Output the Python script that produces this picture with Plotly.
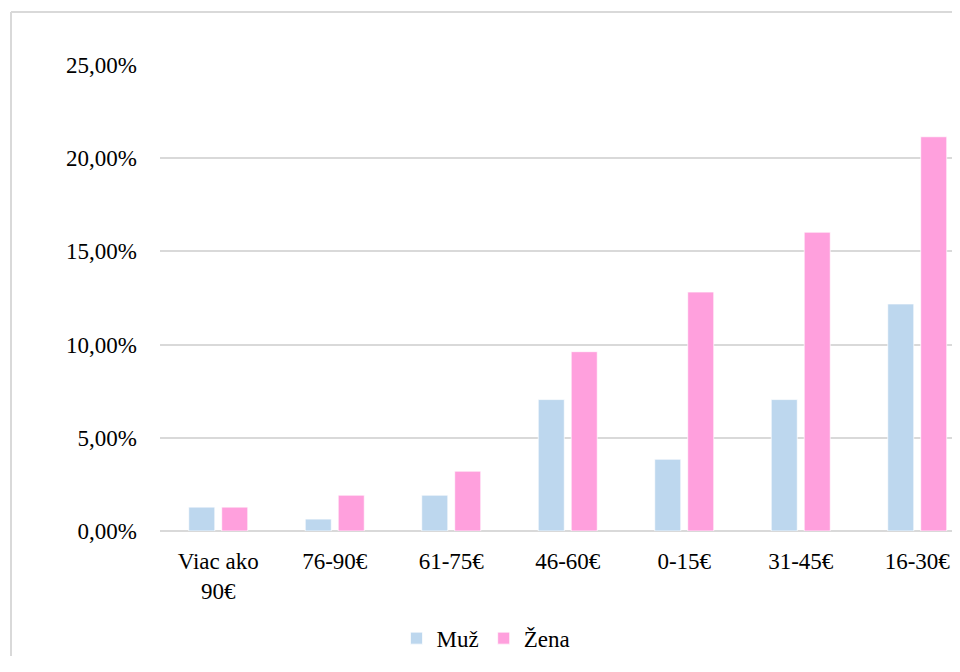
import plotly.graph_objects as go

CATEGORIES = ["Viac ako<br>90€", "76-90€", "61-75€", "46-60€", "0-15€", "31-45€", "16-30€"]
MUZ = [0.0128, 0.0064, 0.0192, 0.0705, 0.0385, 0.0705, 0.1218]
ZENA = [0.0128, 0.0192, 0.0321, 0.0962, 0.1282, 0.1603, 0.2115]

FONT = dict(family="Liberation Serif", color="#000000", size=23)
GRID = "#D9D9D9"

fig = go.Figure()
fig.add_trace(go.Bar(
    x=CATEGORIES, y=MUZ, name="Muž",
    marker=dict(color="#BDD7EE", line=dict(color="rgba(255,255,255,0.7)", width=1)),
))
fig.add_trace(go.Bar(
    x=CATEGORIES, y=ZENA, name="Žena",
    marker=dict(color="#FFA0DD", line=dict(color="rgba(255,255,255,0.7)", width=1)),
))

# chart area border (Excel style), only top and left edges are visible
fig.add_shape(type="line", xref="paper", yref="paper",
              x0=-0.18625, x1=1.2, y0=1.1137, y1=1.1137,
              line=dict(color=GRID, width=2), layer="below")
fig.add_shape(type="line", xref="paper", yref="paper",
              x0=-0.18625, x1=-0.18625, y0=-0.6, y1=1.1137,
              line=dict(color=GRID, width=2), layer="below")

# page body has an 8px margin, so the figure is kept small enough not to scroll
fig.update_layout(
    width=952, height=648,
    margin=dict(l=152, r=0, t=57, b=125, autoexpand=False),
    paper_bgcolor="white", plot_bgcolor="white",
    font=FONT,
    separators=", ",
    barmode="group", bargap=0.434, bargroupgap=0.21,
    showlegend=True,
    legend=dict(
        orientation="h", x=0.4075, xanchor="center", y=-0.23, yanchor="middle",
        font=dict(size=23), itemwidth=30, tracegroupgap=0,
    ),
    xaxis=dict(
        range=[-0.5, 6.367], showgrid=False, showline=False, zeroline=False,
        ticks="", ticklabelstandoff=14,
    ),
    yaxis=dict(
        range=[0, 0.25], dtick=0.05, tickformat=".2%",
        showgrid=True, gridcolor=GRID, gridwidth=1.5,
        zeroline=True, zerolinecolor=GRID, zerolinewidth=1.5,
        showline=False, ticks="", ticklabelstandoff=22,
    ),
)

fig.write_html("out.html")
